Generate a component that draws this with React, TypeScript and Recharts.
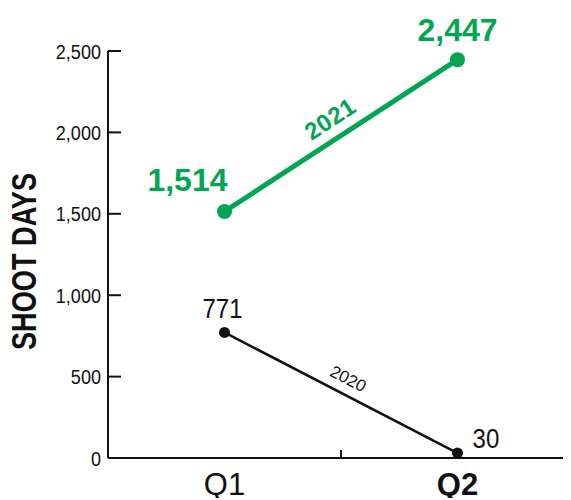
import React from 'react';
import { ComposedChart, Line, XAxis, YAxis } from 'recharts';

const QUARTERS = ['Q1', 'Q2'];
const SHOOT_DAYS_2021 = [1514, 2447];
const SHOOT_DAYS_2020 = [771, 30];
const Y_TICKS = [0, 500, 1000, 1500, 2000, 2500];
const SERIES_2021 = '2021';
const SERIES_2020 = '2020';
const Y_TITLE = 'SHOOT DAYS';

const data = QUARTERS.map((q, i) => ({ q, y2021: SHOOT_DAYS_2021[i], y2020: SHOOT_DAYS_2020[i] }));

const W = 563;
const H = 490;
const TOP = 43;
const YAXIS_W = 100;
const XAXIS_H = 40;
const XPAD_RIGHT = -3;
const Y_MAX = Y_TICKS[Y_TICKS.length - 1];
const PLOT_H = H - TOP - XAXIS_H;
const BAND = (W - YAXIS_W - XPAD_RIGHT) / QUARTERS.length;

const GREEN = '#00a651';
const BLACK = '#111111';
const SANS = "'Liberation Sans', Arial, sans-serif";
const NARROW_X = 0.86;

const fmt = (v: number) => v.toLocaleString('en-US');

function seriesName(x: number, y: number, values: number[], name: string, offset: number, style: any) {
  const dx = BAND;
  const dy = ((values[1] - values[0]) / Y_MAX) * PLOT_H; // upward positive
  const len = Math.sqrt(dx * dx + dy * dy);
  const ux = dx / len;
  const uy = -dy / len;
  const nx = uy;
  const ny = -ux;
  const cx = x + dx / 2 + nx * offset;
  const cy = y - dy / 2 + ny * offset;
  const angle = (Math.atan2(-dy, dx) * 180) / Math.PI;
  return (
    <text
      transform={`translate(${cx},${cy}) rotate(${angle})`}
      textAnchor="middle"
      dy="0.35em"
      {...style}
    >
      {name}
    </text>
  );
}

const NarrowText = ({ x, y, anchor, children, ...rest }: any) => (
  <text transform={`translate(${x},${y}) scale(${NARROW_X},1)`} textAnchor={anchor} {...rest}>
    {children}
  </text>
);

const GreenLabel = (props: any) => {
  const x = props.x ?? props.viewBox?.x;
  const y = props.y ?? props.viewBox?.y;
  const { index, value } = props;
  if (x == null || y == null) return null;
  const common = { fill: GREEN, fontFamily: SANS, fontWeight: 700, fontSize: 32 };
  if (index === 0) {
    return (
      <g>
        <text x={x + 3} y={y - 21} textAnchor="end" {...common}>{fmt(value)}</text>
        {seriesName(x, y, SHOOT_DAYS_2021, SERIES_2021, 20, {
          fill: GREEN, fontFamily: SANS, fontWeight: 700, fontSize: 24, letterSpacing: 0.5,
        })}
      </g>
    );
  }
  return <text x={x} y={y - 19} textAnchor="middle" {...common}>{fmt(value)}</text>;
};

const BlackLabel = (props: any) => {
  const x = props.x ?? props.viewBox?.x;
  const y = props.y ?? props.viewBox?.y;
  const { index, value } = props;
  if (x == null || y == null) return null;
  const common = { fill: BLACK, fontFamily: SANS, fontWeight: 400, fontSize: 28 };
  if (index === 0) {
    return (
      <g>
        <NarrowText x={x - 2} y={y - 14} anchor="middle" {...common}>{fmt(value)}</NarrowText>
        {seriesName(x, y, SHOOT_DAYS_2020, SERIES_2020, 16, {
          fill: BLACK, fontFamily: SANS, fontWeight: 400, fontSize: 17,
        })}
      </g>
    );
  }
  return <NarrowText x={x + 15} y={y - 5} anchor="start" {...common}>{fmt(value)}</NarrowText>;
};

const XTick = (props: any) => {
  const { x, y, payload, index } = props;
  const idx = payload?.index ?? index;
  const bold = idx === QUARTERS.length - 1;
  const half = BAND / 2;
  return (
    <g>
      <text
        x={x}
        y={y + 37}
        textAnchor="middle"
        fill={BLACK}
        fontFamily={SANS}
        fontWeight={bold ? 700 : 400}
        fontSize={31}
      >
        {payload.value}
      </text>
      {idx < QUARTERS.length - 1 && (
        <line x1={x + half} x2={x + half} y1={y} y2={y - 8} stroke={BLACK} strokeWidth={2} />
      )}
    </g>
  );
};

const YTick = (props: any) => {
  const { x, y, payload } = props;
  return (
    <NarrowText x={x} y={y} anchor="end" dy="0.36em" fill={BLACK} fontFamily={SANS} fontSize={21}>
      {fmt(payload.value)}
    </NarrowText>
  );
};

const YTitle = (props: any) => {
  const vb = props.viewBox || {};
  const cx = (vb.x ?? 0) + 15;
  const cy = (vb.y ?? TOP) + (vb.height ?? PLOT_H) / 2 + 7;
  return (
    <text
      transform={`translate(${cx},${cy}) rotate(-90)`}
      textAnchor="middle"
      dy="0.36em"
      fill={BLACK}
      fontFamily={SANS}
      fontWeight={700}
      fontSize={35}
      textLength={177}
      lengthAdjust="spacingAndGlyphs"
    >
      {Y_TITLE}
    </text>
  );
};

export default function App() {
  return (
    <ComposedChart
      width={W}
      height={H}
      data={data}
      margin={{ top: TOP, right: 0, bottom: 0, left: 0 }}
    >
      <XAxis
        dataKey="q"
        scale="band"
        height={XAXIS_H}
        padding={{ left: 0, right: XPAD_RIGHT }}
        axisLine={{ stroke: BLACK, strokeWidth: 2 }}
        tickLine={false}
        tickSize={0}
        tickMargin={0}
        tick={<XTick />}
        interval={0}
      />
      <YAxis
        width={YAXIS_W}
        domain={[0, Y_MAX]}
        ticks={Y_TICKS}
        axisLine={{ stroke: BLACK, strokeWidth: 2 }}
        tickLine={{ stroke: BLACK, strokeWidth: 2 }}
        tickSize={-13}
        tickMargin={20}
        tick={<YTick />}
        interval={0}
        label={<YTitle />}
      />
      <Line
        dataKey="y2020"
        stroke={BLACK}
        strokeWidth={2.5}
        dot={{ r: 5.5, fill: BLACK, stroke: BLACK, strokeWidth: 0 }}
        activeDot={false}
        isAnimationActive={false}
        label={<BlackLabel />}
      />
      <Line
        dataKey="y2021"
        stroke={GREEN}
        strokeWidth={5}
        dot={{ r: 7.5, fill: GREEN, stroke: GREEN, strokeWidth: 0 }}
        activeDot={false}
        isAnimationActive={false}
        label={<GreenLabel />}
      />
    </ComposedChart>
  );
}
